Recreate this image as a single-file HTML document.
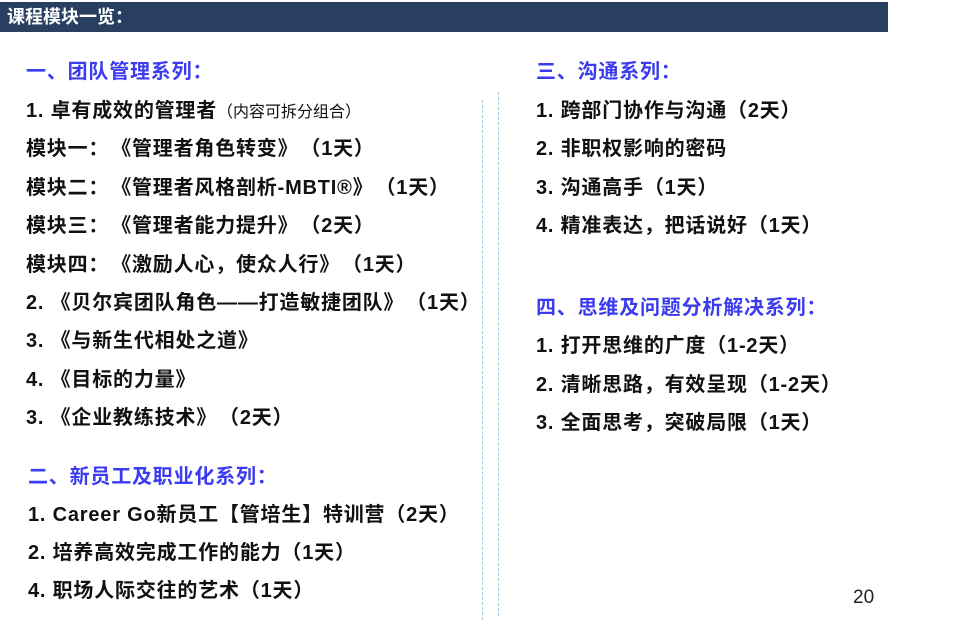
<!DOCTYPE html>
<html><head><meta charset="utf-8"><style>
html,body{margin:0;padding:0;background:#fff;}
body{width:978px;height:624px;position:relative;overflow:hidden;font-family:"Liberation Sans","Noto Sans CJK SC",sans-serif;}
.bar{position:absolute;left:0;top:2px;width:888px;height:30px;background:#283f5f;}
.bar span{position:absolute;left:7px;top:3px;color:#fff;font-weight:bold;font-size:18px;line-height:24px;}
.t{position:absolute;font-weight:bold;font-size:20px;line-height:24px;color:#111;white-space:nowrap;letter-spacing:0.8px;}
.h{color:#3b3bf0;}
.s{font-size:16px;font-weight:normal;letter-spacing:0;}
.g{display:inline-block;width:2px;}
.v{position:absolute;width:0;border-left:1px dashed #9fcbdc;}
</style></head><body>
<div class="bar"><span>课程模块一览：</span></div>
<div class="v" style="left:482px;top:100px;height:520px"></div>
<div class="v" style="left:498px;top:92px;height:524px"></div>

<div class="t h" style="left:26px;top:60px">一、团队管理系列：</div>
<div class="t" style="left:26px;top:99px">1. 卓有成效的管理者<span class="s">（内容可拆分组合）</span></div>
<div class="t" style="left:26px;top:137px">模块一：<span class="g"></span>《管理者角色转变》<span class="g"></span>（1天）</div>
<div class="t" style="left:26px;top:176px">模块二：<span class="g"></span>《管理者风格剖析-MBTI®》<span class="g"></span>（1天）</div>
<div class="t" style="left:26px;top:214px">模块三：<span class="g"></span>《管理者能力提升》<span class="g"></span>（2天）</div>
<div class="t" style="left:26px;top:253px">模块四：<span class="g"></span>《激励人心，使众人行》<span class="g"></span>（1天）</div>
<div class="t" style="left:26px;top:291px">2. 《贝尔宾团队角色——打造敏捷团队》<span class="g"></span>（1天）</div>
<div class="t" style="left:26px;top:329px">3. 《与新生代相处之道》</div>
<div class="t" style="left:26px;top:368px">4. 《目标的力量》</div>
<div class="t" style="left:26px;top:406px">3. 《企业教练技术》<span class="g"></span>（2天）</div>

<div class="t h" style="left:28px;top:465px">二、新员工及职业化系列：</div>
<div class="t" style="left:28px;top:503px">1. Career Go新员工【管培生】特训营（2天）</div>
<div class="t" style="left:28px;top:541px">2. 培养高效完成工作的能力（1天）</div>
<div class="t" style="left:28px;top:579px">4. 职场人际交往的艺术（1天）</div>

<div class="t h" style="left:536px;top:60px">三、沟通系列：</div>
<div class="t" style="left:536px;top:99px">1. 跨部门协作与沟通（2天）</div>
<div class="t" style="left:536px;top:137px">2. 非职权影响的密码</div>
<div class="t" style="left:536px;top:176px">3. 沟通高手（1天）</div>
<div class="t" style="left:536px;top:214px">4. 精准表达，把话说好（1天）</div>

<div class="t h" style="left:536px;top:296px">四、思维及问题分析解决系列：</div>
<div class="t" style="left:536px;top:334px">1. 打开思维的广度（1-2天）</div>
<div class="t" style="left:536px;top:373px">2. 清晰思路，有效呈现（1-2天）</div>
<div class="t" style="left:536px;top:411px">3. 全面思考，突破局限（1天）</div>

<div style="position:absolute;left:853px;top:587px;font-size:19px;line-height:22px;color:#222">20</div>
</body></html>
